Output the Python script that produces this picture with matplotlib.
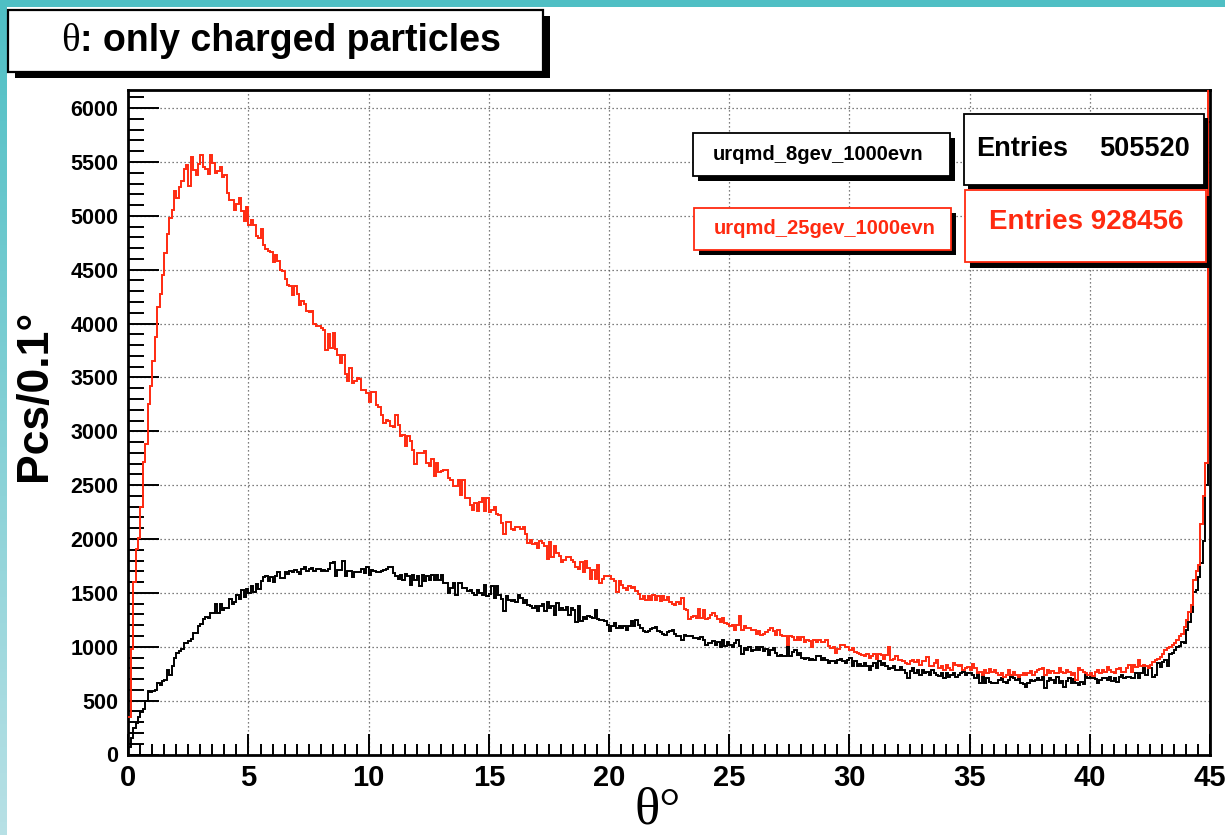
import numpy as np
import matplotlib
matplotlib.use("Agg")
import matplotlib.pyplot as plt
from matplotlib.patches import Rectangle
from matplotlib.ticker import MultipleLocator

plt.rcParams['font.family'] = ['Liberation Sans', 'DejaVu Sans']
plt.rcParams['font.weight'] = 'bold'

# theta histograms, 0.1 deg bins from 0 to 45 deg
counts_8gev = [
    72, 150, 243, 290, 352, 399, 420, 492, 586, 579,
    586, 601, 663, 648, 679, 695, 788, 741, 819, 897,
    938, 959, 981, 1031, 1037, 1053, 1068, 1125, 1125, 1193,
    1209, 1255, 1280, 1271, 1311, 1318, 1396, 1318, 1396, 1343,
    1364, 1364, 1442, 1396, 1417, 1480, 1442, 1529, 1458, 1536,
    1498, 1567, 1505, 1582, 1536, 1614, 1645, 1654, 1614, 1645,
    1604, 1654, 1698, 1635, 1635, 1691, 1676, 1707, 1698, 1716,
    1691, 1676, 1723, 1738, 1707, 1723, 1729, 1707, 1723, 1723,
    1707, 1716, 1707, 1723, 1779, 1791, 1654, 1713, 1716, 1800,
    1654, 1707, 1707, 1645, 1691, 1691, 1691, 1723, 1685, 1738,
    1666, 1716, 1707, 1691, 1698, 1707, 1716, 1723, 1738, 1738,
    1685, 1654, 1629, 1670, 1623, 1679, 1654, 1577, 1670, 1623,
    1660, 1567, 1670, 1608, 1654, 1623, 1670, 1623, 1670, 1623,
    1670, 1592, 1592, 1499, 1546, 1592, 1484, 1592, 1592, 1546,
    1546, 1515, 1530, 1499, 1484, 1524, 1499, 1484, 1577, 1468,
    1493, 1567, 1453, 1567, 1484, 1444, 1329, 1468, 1437, 1422,
    1437, 1413, 1484, 1453, 1407, 1437, 1391, 1376, 1360, 1376,
    1329, 1376, 1400, 1329, 1413, 1360, 1376, 1298, 1407, 1345,
    1360, 1345, 1370, 1298, 1360, 1345, 1227, 1376, 1236, 1277,
    1258, 1283, 1277, 1267, 1339, 1258, 1252, 1246, 1236, 1205,
    1144, 1190, 1221, 1175, 1190, 1175, 1190, 1159, 1190, 1236,
    1196, 1252, 1205, 1175, 1144, 1134, 1144, 1165, 1175, 1184,
    1144, 1134, 1122, 1113, 1134, 1144, 1153, 1122, 1103, 1097,
    1066, 1113, 1097, 1103, 1097, 1082, 1082, 1072, 1091, 1066,
    1020, 1035, 1036, 1051, 1020, 1042, 998, 1060, 1011, 1042,
    1020, 998, 1036, 1060, 1011, 937, 989, 967, 998, 958,
    974, 998, 974, 998, 958, 980, 927, 974, 989, 943,
    912, 927, 912, 912, 1011, 912, 949, 974, 927, 943,
    896, 887, 896, 881, 887, 881, 912, 918, 881, 896,
    881, 850, 865, 865, 850, 881, 887, 865, 850, 881,
    896, 819, 865, 825, 844, 819, 850, 819, 788, 819,
    850, 803, 865, 834, 850, 819, 794, 803, 825, 788,
    788, 813, 788, 757, 711, 772, 803, 757, 782, 741,
    788, 757, 763, 741, 782, 757, 741, 726, 757, 711,
    753, 716, 738, 753, 716, 738, 753, 769, 738, 759,
    753, 738, 707, 753, 661, 738, 667, 707, 676, 661,
    667, 667, 691, 707, 676, 667, 691, 722, 707, 691,
    716, 667, 654, 624, 661, 691, 685, 691, 707, 691,
    716, 614, 685, 707, 691, 661, 716, 667, 685, 630,
    685, 707, 667, 698, 667, 645, 676, 654, 738, 707,
    716, 707, 698, 667, 691, 707, 707, 691, 716, 685,
    707, 676, 722, 738, 707, 716, 722, 707, 707, 753,
    707, 759, 799, 738, 799, 799, 722, 738, 846, 815,
    861, 877, 821, 932, 944, 969, 994, 1006, 1046, 1031,
    1154, 1232, 1324, 1509, 1525, 1650, 1780, 1986, 2499, 5870,
]

counts_25gev = [
    350, 981, 1600, 1903, 2009, 2299, 2714, 2881, 3255, 3416,
    3649, 3871, 4150, 4277, 4454, 4655, 4831, 4980, 5057, 5228,
    5166, 5265, 5320, 5438, 5469, 5274, 5543, 5429, 5382, 5481,
    5568, 5450, 5435, 5392, 5568, 5491, 5398, 5413, 5450, 5361,
    5376, 5212, 5150, 5150, 5057, 5113, 5166, 5048, 4949, 5079,
    4912, 4958, 4912, 4810, 4794, 4881, 4732, 4695, 4670, 4664,
    4568, 4633, 4577, 4494, 4491, 4416, 4354, 4345, 4268, 4345,
    4277, 4175, 4206, 4184, 4113, 4107, 4113, 3995, 3980, 3980,
    3958, 3943, 3757, 3902, 3772, 3912, 3766, 3711, 3633, 3711,
    3531, 3463, 3587, 3447, 3469, 3494, 3488, 3385, 3379, 3354,
    3271, 3361, 3364, 3246, 3221, 3147, 3076, 3107, 3097, 3045,
    3036, 3153, 3060, 2960, 2969, 2867, 2960, 2907, 2830, 2700,
    2799, 2799, 2799, 2814, 2706, 2675, 2746, 2582, 2706, 2619,
    2629, 2638, 2644, 2567, 2551, 2489, 2489, 2551, 2412, 2551,
    2381, 2381, 2319, 2273, 2335, 2264, 2341, 2381, 2257, 2381,
    2251, 2267, 2295, 2233, 2227, 2149, 2050, 2155, 2155, 2093,
    2087, 2109, 2112, 2093, 2109, 2050, 1963, 1988, 1957, 1963,
    1917, 1979, 1963, 1933, 1818, 1973, 1834, 1933, 1871, 1846,
    1784, 1809, 1834, 1830, 1809, 1784, 1738, 1725, 1784, 1691,
    1793, 1731, 1629, 1716, 1629, 1762, 1592, 1629, 1654, 1654,
    1660, 1629, 1608, 1509, 1614, 1577, 1546, 1530, 1561, 1546,
    1555, 1515, 1493, 1447, 1468, 1431, 1468, 1437, 1478, 1431,
    1475, 1428, 1468, 1437, 1462, 1413, 1400, 1391, 1413, 1397,
    1453, 1351, 1345, 1258, 1277, 1283, 1264, 1351, 1267, 1345,
    1258, 1267, 1298, 1314, 1283, 1259, 1228, 1268, 1221, 1215,
    1190, 1206, 1159, 1206, 1283, 1159, 1197, 1175, 1175, 1153,
    1153, 1122, 1144, 1113, 1122, 1135, 1153, 1175, 1144, 1113,
    1153, 1113, 1104, 1098, 1020, 1098, 1091, 1067, 1091, 1067,
    1091, 1042, 1060, 1051, 998, 1067, 1042, 1060, 1042, 1042,
    1067, 1011, 989, 998, 943, 980, 1020, 1020, 998, 998,
    974, 989, 949, 943, 933, 927, 918, 937, 896, 912,
    937, 887, 937, 927, 887, 927, 998, 881, 887, 912,
    881, 881, 865, 850, 844, 865, 875, 856, 881, 834,
    865, 865, 906, 819, 819, 850, 881, 803, 825, 788,
    830, 799, 784, 846, 830, 821, 830, 784, 799, 815,
    784, 840, 799, 759, 769, 738, 784, 753, 790, 769,
    784, 753, 738, 753, 722, 738, 784, 738, 769, 738,
    722, 738, 759, 738, 753, 778, 738, 769, 784, 790,
    806, 738, 784, 753, 778, 759, 753, 799, 769, 753,
    784, 769, 738, 759, 691, 799, 784, 769, 753, 738,
    753, 728, 769, 784, 753, 784, 769, 809, 784, 769,
    759, 790, 799, 769, 769, 799, 830, 769, 830, 815,
    877, 821, 830, 821, 799, 830, 861, 877, 883, 907,
    932, 969, 985, 994, 1016, 1031, 1062, 1099, 1117, 1185,
    1247, 1324, 1386, 1617, 1700, 1760, 2138, 2400, 2707, 9800,
]

labels = ['urqmd_8gev_1000evn', 'urqmd_25gev_1000evn']
entries = [505520, 928456]

RED = '#ff2a10'
W, H = 1225, 835


def fx(px):
    return px / W


def fy(py):
    return 1 - py / H


def box(fig, x0, y0, x1, y1, edge='black', shadow=(6, 6), lw=1.3):
    # ROOT style pave: white box with a black drop shadow
    dx, dy = shadow
    fig.patches.append(Rectangle((fx(x0 + dx), fy(y1 + dy)), (x1 - x0) / W, (y1 - y0) / H,
                                 transform=fig.transFigure, facecolor='black',
                                 edgecolor='none', zorder=5))
    fig.patches.append(Rectangle((fx(x0), fy(y1)), (x1 - x0) / W, (y1 - y0) / H,
                                 transform=fig.transFigure, facecolor='white',
                                 edgecolor=edge, lw=lw, zorder=6))


fig = plt.figure(figsize=(W / 100, H / 100), dpi=100)
fig.patch.set_facecolor('white')

# teal border strips
top = fig.add_axes([0, fy(7), 1, 7 / H])
top.axis('off')
top.imshow([[[0.31, 0.75, 0.77]]], aspect='auto', extent=[0, 1, 0, 1])
side = fig.add_axes([0, 0, 7 / W, 1])
side.axis('off')
grad = np.linspace(0, 1, 256)[:, None]
c0 = np.array([0.31, 0.75, 0.77])
c1 = np.array([0.72, 0.88, 0.90])
side.imshow(c0 + grad[:, :, None] * (c1 - c0), aspect='auto', extent=[0, 1, 0, 1])

ax = fig.add_axes([fx(128.3), fy(754.5), (1210 - 128.3) / W, (754.5 - 90) / H])
edges = np.linspace(0, 45, len(counts_8gev) + 1)
ax.stairs(counts_8gev, edges, color='black', lw=1.4, baseline=None, zorder=3)
ax.stairs(counts_25gev, edges, color=RED, lw=1.4, baseline=None, zorder=4)

ax.set_xlim(0, 45)
ax.set_ylim(0, 6168)
ax.xaxis.set_major_locator(MultipleLocator(5))
ax.xaxis.set_minor_locator(MultipleLocator(0.5))
ax.yaxis.set_major_locator(MultipleLocator(500))
ax.yaxis.set_minor_locator(MultipleLocator(100))
ax.grid(True, which='major', color='#555555', linestyle=(0, (1, 2.2)), lw=0.9, zorder=1)
for s in ax.spines.values():
    s.set_linewidth(2)
ax.tick_params(axis='x', which='major', direction='in', length=15, width=1.4,
               labelsize=21, pad=7)
ax.tick_params(axis='x', which='minor', direction='in', length=8, width=1.4)
ax.tick_params(axis='y', which='major', direction='in', length=22, width=1.4,
               labelsize=15.5, pad=7)
ax.tick_params(axis='y', which='minor', direction='in', length=11.5, width=1.4)
for t in ax.get_xticklabels() + ax.get_yticklabels():
    t.set_fontweight('bold')

# axis titles
fig.text(fx(658), fy(810), 'θ°', family=['Liberation Serif', 'DejaVu Serif'],
         fontsize=38, ha='center', va='center', weight='normal')
fig.text(fx(35), fy(395), 'Pcs/0.1°', fontsize=32, rotation=90,
         ha='center', va='center', weight='bold')

# title pave
box(fig, 8, 10, 543, 72, shadow=(7, 6), lw=1.6)
th = fig.text(fx(61), fy(51), 'θ', family=['Liberation Serif', 'DejaVu Serif'],
              fontsize=28, weight='normal', ha='left', va='baseline', zorder=7)
fig.texts.append(plt.Annotation(': only charged particles', xy=(1, fy(51)),
                                xycoords=(th, 'figure fraction'),
                                fontsize=27, weight='bold', ha='left', va='baseline',
                                zorder=7))
fig.texts[-1].set_figure(fig)

# legend entries
box(fig, 693, 133, 950, 176, shadow=(5, 5))
fig.text(fx(818), fy(155), labels[0], fontsize=14.5, color='black',
         ha='center', va='center', zorder=7)
box(fig, 694, 208, 951, 250, edge=RED, shadow=(5, 5))
fig.text(fx(825), fy(229), labels[1], fontsize=14.5, color=RED,
         ha='center', va='center', zorder=7)

# statistics boxes
box(fig, 964, 114, 1204, 185, shadow=(4, 4))
fig.text(fx(976), fy(149), 'Entries', fontsize=19.5, ha='left', va='center', zorder=7)
fig.text(fx(1190), fy(149), str(entries[0]), fontsize=19.5, ha='right', va='center', zorder=7)
box(fig, 965, 190, 1206, 262, edge=RED, shadow=(5, 6))
fig.text(fx(1086), fy(222), 'Entries %d' % entries[1], fontsize=20, color=RED,
         ha='center', va='center', zorder=7)

fig.savefig('out.png', dpi=100)
